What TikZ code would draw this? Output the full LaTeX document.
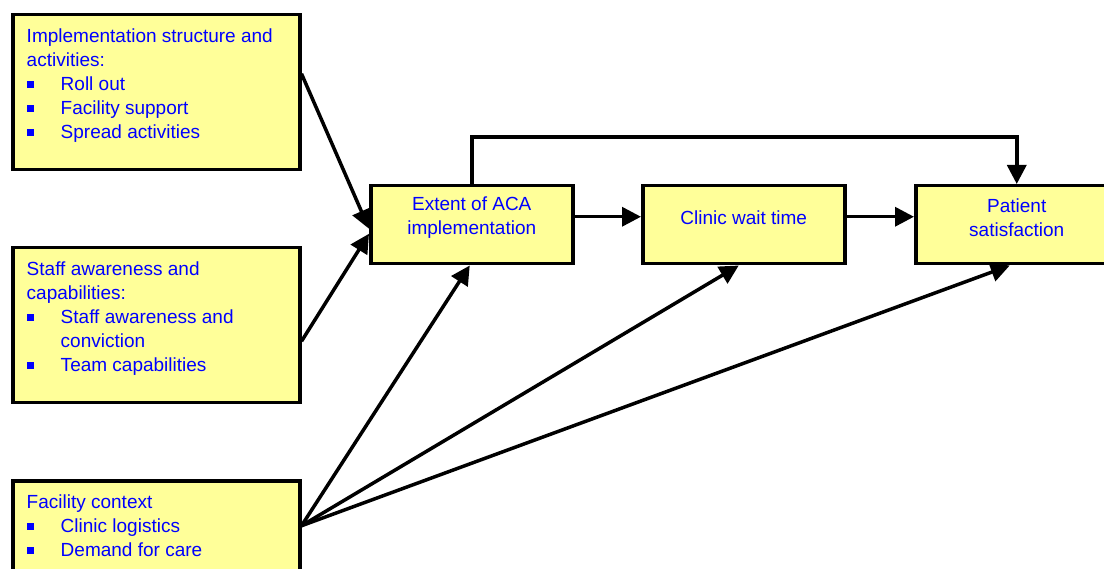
\documentclass[tikz,border=0pt]{standalone}
\usepackage{fontspec}
\setmainfont{Liberation Sans}
\usepackage{tikz}
\usetikzlibrary{arrows.meta,positioning}

\definecolor{boxyellow}{RGB}{255,255,153}
\definecolor{textblue}{RGB}{0,0,255}

% bullet line inside the left boxes
\newcommand{\bitem}[1]{\par\noindent\rule[3pt]{7pt}{7pt}\hspace*{27pt}#1}
\newcommand{\boxtext}[1]{\parbox[c][127pt][t]{259pt}{\raggedright #1}}

\begin{document}
\begin{tikzpicture}[x=1pt, y=-1pt, line width=3.5pt,
  factor box/.style={draw, fill=boxyellow, anchor=north west, inner xsep=14pt, inner ysep=14pt,
    text=textblue, font=\fontsize{19}{24}\selectfont},
  outcome box/.style={draw, fill=boxyellow, anchor=north west, minimum width=202pt, minimum height=78pt,
    inner sep=0pt},
  outcome text/.style={text=textblue, align=center, yshift=7pt, font=\fontsize{19}{24}\selectfont},
  link/.style={-{Triangle[length=19pt,width=19pt]}}]
\useasboundingbox (0,0) rectangle (1104,569);
\clip (0,0) rectangle (1104,569);

% left boxes
\node[factor box] (impl) at (11,13) {\boxtext{Implementation structure and\\activities:
  \bitem{Roll out}\bitem{Facility support}\bitem{Spread activities}}};
\node[factor box] (staff) at (11,246) {\boxtext{Staff awareness and\\capabilities:
  \bitem{Staff awareness and}\\\hspace*{34pt}conviction\bitem{Team capabilities}}};
\node[factor box] (fac) at (11,479) {\boxtext{Facility context
  \bitem{Clinic logistics}\bitem{Demand for care}}};

% outcome chain
\node[outcome box, label={[outcome text]center:Extent of ACA\\implementation}] (ext) at (369,184) {};
\node[outcome box, label={[outcome text]center:Clinic wait time}] (wait) at (641,184) {};
\node[outcome box, label={[outcome text]center:Patient\\satisfaction}] (pat) at (914,184) {};

\coordinate (facout) at ([yshift=32.5pt]fac.east);

\draw[link] ([yshift=18.5pt]impl.east) -- ([yshift=-4pt]ext.west);
\draw[link] ([yshift=-16pt]staff.east) -- ([yshift=-9pt]ext.west);
\draw[link] (facout) -- ([xshift=-2pt]ext.south);
\draw[link] (facout) -- ([xshift=-5pt]wait.south);
\draw[link] (facout) -- ([xshift=-7pt]pat.south);
\draw[link] ([yshift=8pt]ext.east) -- ([yshift=8pt]wait.west);
\draw[link] ([yshift=8pt]wait.east) -- ([yshift=8pt]pat.west);
\draw[link] (ext.north) -- ++(0,-47) -| (pat.north);
\end{tikzpicture}
\end{document}
